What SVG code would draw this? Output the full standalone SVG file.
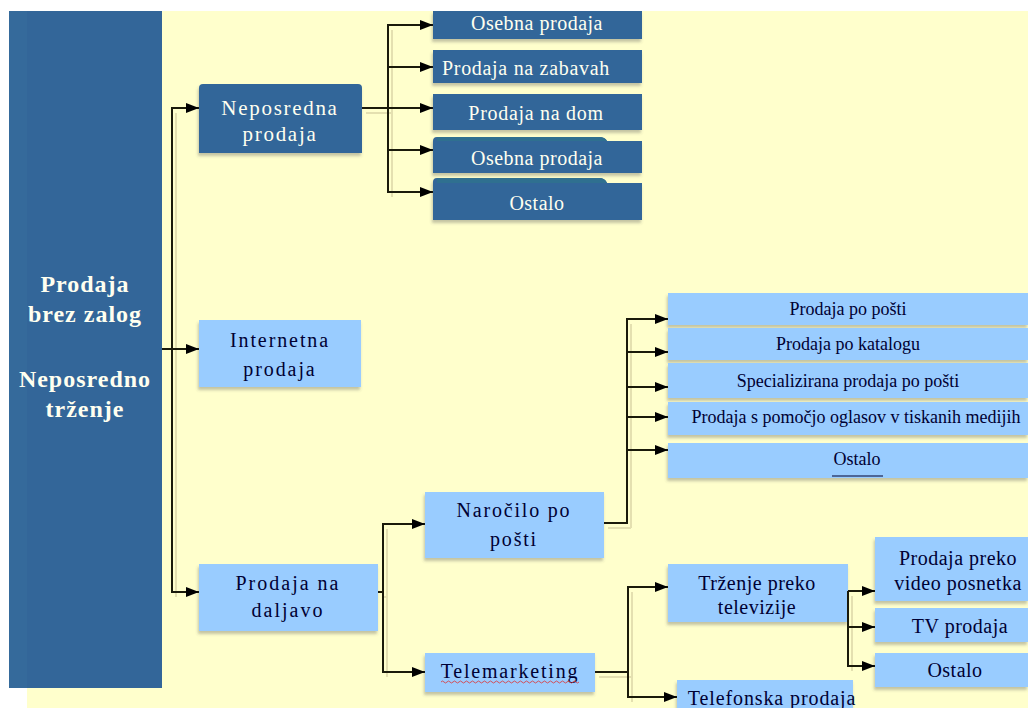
<svg xmlns="http://www.w3.org/2000/svg" width="1028" height="708" viewBox="0 0 1028 708">
<defs>
<marker id="ah" markerUnits="userSpaceOnUse" markerWidth="14" markerHeight="10" refX="13" refY="5" orient="auto">
<path d="M0,0 L13,5 L0,10 Z" fill="#000"/>
</marker>
<filter id="ds" x="-5%" y="-10%" width="115%" height="140%">
<feDropShadow dx="-1" dy="3" stdDeviation="1.5" flood-color="#555" flood-opacity="0.35"/>
</filter>
</defs>
<rect x="0" y="0" width="1028" height="708" fill="#FFFFFF"/>
<rect x="9" y="11" width="1019" height="697" fill="#FFFFCC"/>
<rect x="9" y="688" width="18" height="20" fill="#FFFFFF"/>

<g id="connector-shadows" transform="translate(4,5)" fill="none" stroke="#E4E0B0" stroke-width="2">
<path d="M172,108 V592 M362,108 H388 M388,25 V192 M604,523 H627 M627,319 V523 M378,592 H383 M383,524 V672 M595,672 H628 M628,587 V697 M848,591 V666"/>
</g>

<g id="root" font-family="Liberation Serif" text-anchor="middle" fill="#FFFFF0" font-size="24" font-weight="bold" letter-spacing="1">
<rect x="9" y="11" width="153" height="677" fill="#336699"/>
<rect x="9" y="11" width="18" height="677" fill="#356A9B"/>
<text x="85" y="292">Prodaja</text>
<text x="85" y="322">brez zalog</text>
<text x="85" y="387">Neposredno</text>
<text x="85" y="417">trženje</text>
</g>

<g id="neposredna" font-family="Liberation Serif" text-anchor="middle" fill="#FFFFF0" font-size="21" letter-spacing="1.7">
<path fill="#336699" filter="url(#ds)" d="M199,88 Q199,84 203,84 H358 Q362,84 362,88 V153 H199 Z"/>
<text x="280" y="115">Neposredna</text>
<text x="280" y="141">prodaja</text>
</g>

<g id="internetna" font-family="Liberation Serif" text-anchor="middle" fill="#000033" font-size="20" letter-spacing="1.9">
<rect fill="#99CCFF" filter="url(#ds)" x="199" y="320" width="162" height="67"/>
<text x="280" y="347">Internetna</text>
<text x="280" y="376">prodaja</text>
</g>

<g id="daljavo" font-family="Liberation Serif" text-anchor="middle" fill="#000033" font-size="20" letter-spacing="2">
<rect fill="#99CCFF" filter="url(#ds)" x="199" y="564" width="179" height="67"/>
<text x="288" y="590">Prodaja na</text>
<text x="288" y="617">daljavo</text>
</g>

<g id="osebna1" font-family="Liberation Serif" text-anchor="middle" fill="#FFFFF0" font-size="20" letter-spacing="0.5">
<rect fill="#336699" filter="url(#ds)" x="433" y="11" width="209" height="28"/>
<text x="537" y="30">Osebna prodaja</text>
</g>
<g id="zabavah" font-family="Liberation Serif" text-anchor="middle" fill="#FFFFF0" font-size="20" letter-spacing="0.7">
<rect fill="#336699" filter="url(#ds)" x="433" y="50" width="209" height="33"/>
<text x="526" y="75">Prodaja na zabavah</text>
</g>
<g id="dom" font-family="Liberation Serif" text-anchor="middle" fill="#FFFFF0" font-size="20" letter-spacing="0.7">
<rect fill="#336699" filter="url(#ds)" x="433" y="94" width="209" height="36"/>
<text x="536" y="120">Prodaja na dom</text>
</g>
<g id="osebna2" font-family="Liberation Serif" text-anchor="middle" fill="#FFFFF0" font-size="20" letter-spacing="0.5">
<path fill="#336699" filter="url(#ds)" d="M433,141 Q433,137 437,137 H599 Q605,137 607,141 H642 V173 H433 Z"/>
<path d="M437,137 H599 Q605,137 607,141 H437 Z" fill="#2F7090"/>
<text x="537" y="165">Osebna prodaja</text>
</g>
<g id="ostalo1" font-family="Liberation Serif" text-anchor="middle" fill="#FFFFF0" font-size="20" letter-spacing="0.5">
<path fill="#336699" filter="url(#ds)" d="M433,182 Q433,178 437,178 H599 Q605,178 607,183 H642 V220 H433 Z"/>
<path d="M437,178 H599 Q605,178 607,183 H437 Z" fill="#2F7090"/>
<text x="537" y="210">Ostalo</text>
</g>

<g id="narocilo" font-family="Liberation Serif" text-anchor="middle" fill="#000033" font-size="20" letter-spacing="1.8">
<rect fill="#99CCFF" filter="url(#ds)" x="425" y="492" width="179" height="66"/>
<text x="514" y="517">Naročilo po</text>
<text x="514" y="546">pošti</text>
</g>

<g id="telemarketing" font-family="Liberation Serif" text-anchor="middle" fill="#000033" font-size="20" letter-spacing="1.8">
<rect fill="#99CCFF" filter="url(#ds)" x="425" y="653" width="170" height="39"/>
<text x="510" y="678">Telemarketing</text>
<path d="M441,682 q1.5,-2 3,0 t3,0 t3,0 t3,0 t3,0 t3,0 t3,0 t3,0 t3,0 t3,0 t3,0 t3,0 t3,0 t3,0 t3,0 t3,0 t3,0 t3,0 t3,0 t3,0 t3,0 t3,0 t3,0 t3,0 t3,0 t3,0 t3,0 t3,0 t3,0 t3,0 t3,0 t3,0 t3,0 t3,0 t3,0 t3,0 t3,0 t3,0 t3,0 t3,0 t3,0 t3,0 t3,0 t3,0 t3,0 t3,0" fill="none" stroke="#E03030" stroke-width="0.8"/>
</g>

<g id="posti" font-family="Liberation Serif" text-anchor="middle" fill="#000033" font-size="18">
<rect fill="#99CCFF" filter="url(#ds)" x="668" y="293" width="360" height="32"/>
<text x="848" y="315">Prodaja po pošti</text>
</g>
<g id="katalog" font-family="Liberation Serif" text-anchor="middle" fill="#000033" font-size="18">
<rect fill="#99CCFF" filter="url(#ds)" x="668" y="328" width="360" height="32"/>
<text x="848" y="350">Prodaja po katalogu</text>
</g>
<g id="specializirana" font-family="Liberation Serif" text-anchor="middle" fill="#000033" font-size="18">
<rect fill="#99CCFF" filter="url(#ds)" x="668" y="363" width="360" height="35"/>
<text x="848" y="387">Specializirana prodaja po pošti</text>
</g>
<g id="oglasi" font-family="Liberation Serif" text-anchor="middle" fill="#000033" font-size="18">
<rect fill="#99CCFF" filter="url(#ds)" x="668" y="402" width="360" height="33"/>
<text x="856" y="423">Prodaja s pomočjo oglasov v tiskanih medijih</text>
</g>
<g id="ostalo2" font-family="Liberation Serif" text-anchor="middle" fill="#000033" font-size="18">
<rect fill="#99CCFF" filter="url(#ds)" x="668" y="443" width="360" height="35"/>
<text x="857" y="465">Ostalo</text>
<path d="M832,476 H883" stroke="#000033" stroke-width="1.2"/>
</g>

<g id="trzenje" font-family="Liberation Serif" text-anchor="middle" fill="#000033" font-size="20" letter-spacing="0.5">
<rect fill="#99CCFF" filter="url(#ds)" x="668" y="564" width="180" height="58"/>
<text x="757" y="590">Trženje preko</text>
<text x="757" y="614">televizije</text>
</g>
<g id="telefonska" font-family="Liberation Serif" text-anchor="middle" fill="#000033" font-size="20" letter-spacing="0.9">
<rect fill="#99CCFF" filter="url(#ds)" x="677" y="680" width="176" height="32"/>
<text x="772" y="705">Telefonska prodaja</text>
</g>
<g id="video" font-family="Liberation Serif" text-anchor="middle" fill="#000033" font-size="20" letter-spacing="0.5">
<rect fill="#99CCFF" filter="url(#ds)" x="875" y="537" width="153" height="64"/>
<text x="958" y="565">Prodaja preko</text>
<text x="958" y="590">video posnetka</text>
</g>
<g id="tvprodaja" font-family="Liberation Serif" text-anchor="middle" fill="#000033" font-size="20" letter-spacing="0.5">
<rect fill="#99CCFF" filter="url(#ds)" x="875" y="608" width="153" height="34"/>
<text x="960" y="633">TV prodaja</text>
</g>
<g id="ostalo3" font-family="Liberation Serif" text-anchor="middle" fill="#000033" font-size="20" letter-spacing="0.5">
<rect fill="#99CCFF" filter="url(#ds)" x="875" y="653" width="153" height="34"/>
<text x="955" y="677">Ostalo</text>
</g>

<g id="connectors" fill="none" stroke="#1a1a0a" stroke-width="2">
<path d="M172,108 V592"/>
<path marker-end="url(#ah)" d="M171,108 H199"/>
<path marker-end="url(#ah)" d="M162,349 H199"/>
<path marker-end="url(#ah)" d="M171,592 H199"/>

<path d="M362,108 H388 M388,25 V192"/>
<path marker-end="url(#ah)" d="M387,25 H433"/>
<path marker-end="url(#ah)" d="M387,67 H433"/>
<path marker-end="url(#ah)" d="M387,108 H433"/>
<path marker-end="url(#ah)" d="M387,150 H433"/>
<path marker-end="url(#ah)" d="M387,192 H433"/>

<path d="M378,592 H383 M383,524 V672"/>
<path marker-end="url(#ah)" d="M382,524 H425"/>
<path marker-end="url(#ah)" d="M382,672 H425"/>

<path d="M604,523 H627 V319"/>
<path marker-end="url(#ah)" d="M626,319 H668"/>
<path marker-end="url(#ah)" d="M626,352 H668"/>
<path marker-end="url(#ah)" d="M626,387 H668"/>
<path marker-end="url(#ah)" d="M626,417 H668"/>
<path marker-end="url(#ah)" d="M626,450 H668"/>

<path d="M595,672 H628 M628,587 V697"/>
<path marker-end="url(#ah)" d="M627,587 H668"/>
<path marker-end="url(#ah)" d="M627,697 H677"/>

<path d="M848,591 V666"/>
<path marker-end="url(#ah)" d="M848,591 H875"/>
<path marker-end="url(#ah)" d="M847,627 H875"/>
<path marker-end="url(#ah)" d="M847,666 H875"/>
</g>
</svg>
